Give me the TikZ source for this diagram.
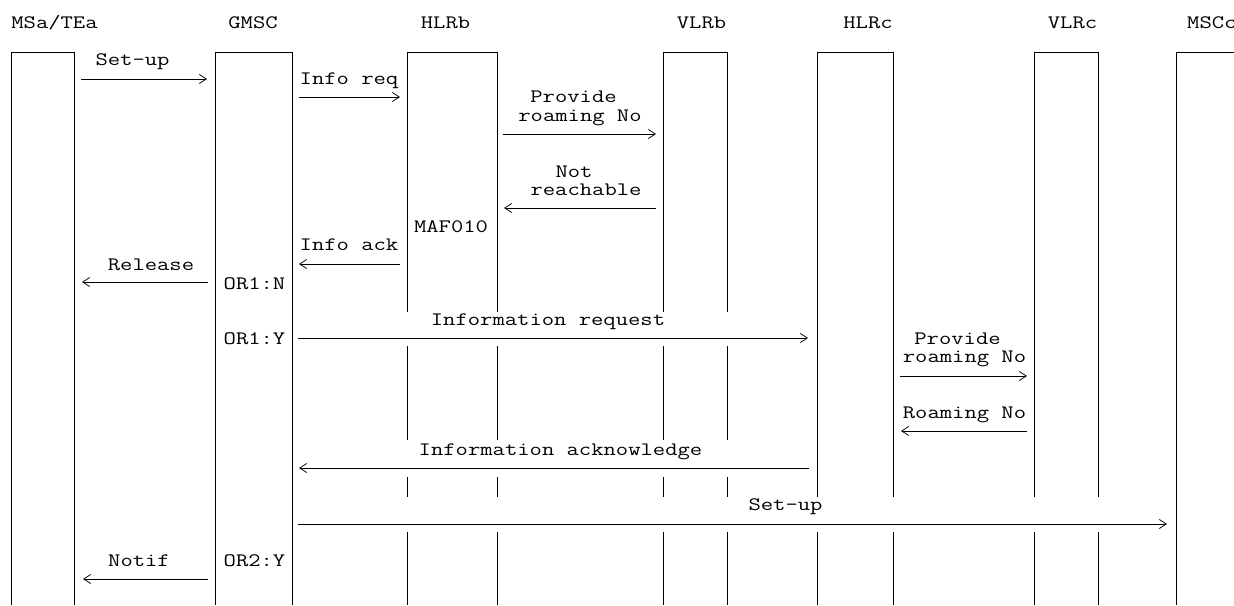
\documentclass[tikz,border=0pt]{standalone}
\usepackage{fontspec}
\usepackage{graphicx}
\usetikzlibrary{arrows.meta}
\newcommand\stretchtxt[1]{\scalebox{1.26}[1]{#1}}
\begin{document}
\begin{tikzpicture}[x=1pt,y=-1pt,
  lbl/.style={font=\ttfamily\fontsize{19}{22}\selectfont, inner sep=0pt, anchor=base},
  life/.style={line width=0.85pt, black},
  msg/.style={line width=0.75pt, black, -{Straight Barb[length=7pt,width=9pt,line width=0.75pt]}}]
\path[use as bounding box] (0,0) rectangle (1234,605);
\fill[white] (0,0) rectangle (1234,605);

% entity names
\node[lbl] (nMS)  at (54.5,28) {\stretchtxt{MSa/TEa}};
\node[lbl] (nGM)  at (253,28) {\stretchtxt{GMSC}};
\node[lbl] (nHb)  at (445.5,28) {\stretchtxt{HLRb}};
\node[lbl] (nVb)  at (701.5,28) {\stretchtxt{VLRb}};
\node[lbl] (nHc)  at (868,28) {\stretchtxt{HLRc}};
\node[lbl] (nVc)  at (1072.5,28) {\stretchtxt{VLRc}};
\node[lbl,anchor=base west] (nMc) at (1187,28) {\stretchtxt{MSCc}};

% lifelines
\draw[life] (11,605) -- (11,52) -- (74,52) -- (74,605);
\draw[life] (215,605) -- (215,52) -- (292,52) -- (292,605);
\foreach \xa/\xb in {407/497, 663/727}{
  \draw[life] (\xa,312) -- (\xa,52) -- (\xb,52) -- (\xb,312);
  \draw[life] (\xa,346) -- (\xa,440) (\xb,346) -- (\xb,440);
  \draw[life] (\xa,477) -- (\xa,497) (\xb,477) -- (\xb,497);
  \draw[life] (\xa,532) -- (\xa,605) (\xb,532) -- (\xb,605);
}
\foreach \xa/\xb in {817/893, 1034/1098}{
  \draw[life] (\xa,497) -- (\xa,52) -- (\xb,52) -- (\xb,497);
  \draw[life] (\xa,532) -- (\xa,605) (\xb,532) -- (\xb,605);
}
\draw[life] (1176,605) -- (1176,52) -- (1240,52);

% message end points
\coordinate (m1a) at (81,79);   \coordinate (m1b) at (207,79);
\coordinate (m2a) at (299,97);  \coordinate (m2b) at (400,97);
\coordinate (m3a) at (503,134); \coordinate (m3b) at (656,134);
\coordinate (m4a) at (656,208); \coordinate (m4b) at (504,208);
\coordinate (m5a) at (400,264); \coordinate (m5b) at (299,264);
\coordinate (m6a) at (208,282); \coordinate (m6b) at (82,282);
\coordinate (m7a) at (298,338); \coordinate (m7b) at (808,338);
\coordinate (m8a) at (900,376); \coordinate (m8b) at (1027,376);
\coordinate (m9a) at (1027,431); \coordinate (m9b) at (901,431);
\coordinate (m10a) at (809,468); \coordinate (m10b) at (299,468);
\coordinate (m11a) at (298,524); \coordinate (m11b) at (1167,524);
\coordinate (m12a) at (208,579); \coordinate (m12b) at (83,579);

\foreach \i in {1,...,12}{\draw[msg] (m\i a) -- (m\i b);}

% labels
\node[lbl] (t1)  at (132.5,65.7) {\stretchtxt{Set-up}};
\node[lbl] (t2)  at (349,84) {\stretchtxt{Info req}};
\node[lbl] (t3a) at (573.5,102.7) {\stretchtxt{Provide}};
\node[lbl] (t3b) at (580,121.7) {\stretchtxt{roaming No}};
\node[lbl] (t4a) at (574,177) {\stretchtxt{Not}};
\node[lbl] (t4b) at (586,195) {\stretchtxt{reachable}};
\node[lbl] (tMAF) at (451,232) {\stretchtxt{MAF010}};
\node[lbl] (t5)  at (349,250.7) {\stretchtxt{Info ack}};
\node[lbl] (t6)  at (151,270) {\stretchtxt{Release}};
\node[lbl] (o1n) at (254.5,289) {\stretchtxt{OR1:N}};
\node[lbl] (o1y) at (254.5,344.3) {\stretchtxt{OR1:Y}};
\node[lbl] (t7)  at (548,325) {\stretchtxt{Information request}};
\node[lbl] (t8a) at (957.5,344) {\stretchtxt{Provide}};
\node[lbl] (t8b) at (964.5,362.3) {\stretchtxt{roaming No}};
\node[lbl] (t9)  at (964.5,418.3) {\stretchtxt{Roaming No}};
\node[lbl] (t10) at (560.5,455) {\stretchtxt{Information acknowledge}};
\node[lbl] (t11) at (785.5,510.7) {\stretchtxt{Set-up}};
\node[lbl] (t12) at (139,566.7) {\stretchtxt{Notif}};
\node[lbl] (o2y) at (254.5,566.7) {\stretchtxt{OR2:Y}};
\end{tikzpicture}
\end{document}
